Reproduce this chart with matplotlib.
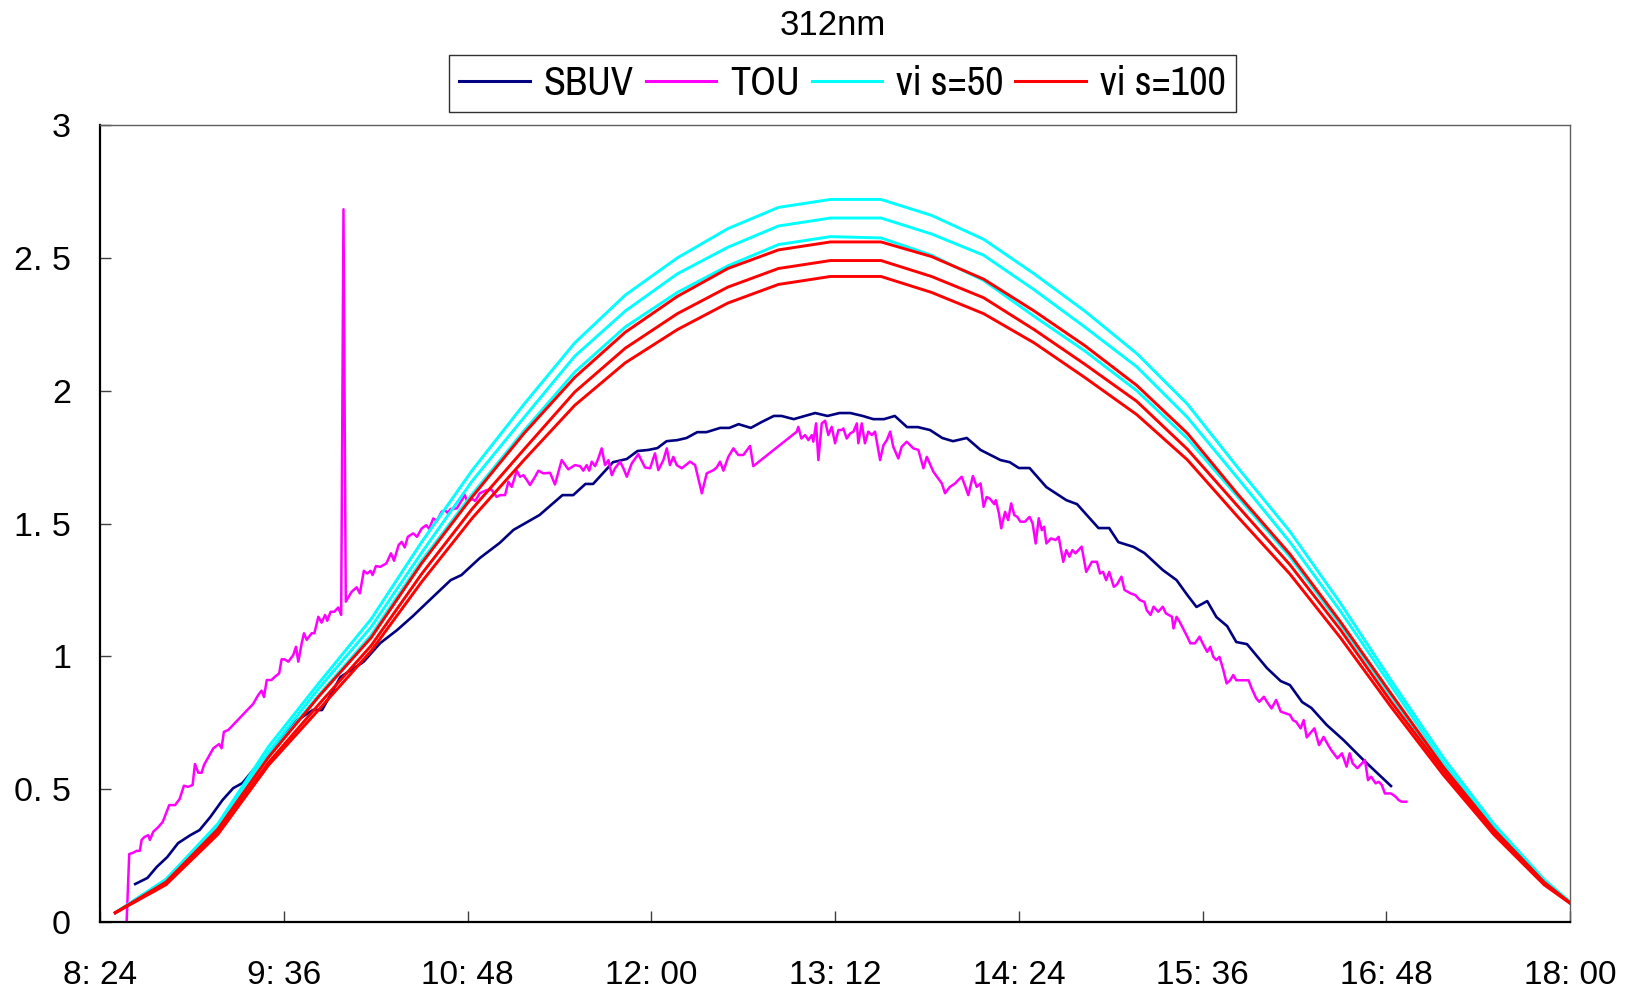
import matplotlib
matplotlib.use("Agg")
import matplotlib.pyplot as plt
from matplotlib.lines import Line2D

# time axis in decimal hours (8.4 = 8:24, 18.0 = 18:00)
tick_hours = [8.4, 9.6, 10.8, 12.0, 13.2, 14.4, 15.6, 16.8, 18.0]
tick_labels = ["8: 24", "9: 36", "10: 48", "12: 00", "13: 12", "14: 24", "15: 36", "16: 48", "18: 00"]
ytick_vals = [0, 0.5, 1, 1.5, 2, 2.5, 3]
ytick_labels = ["0", "0. 5", "1", "1. 5", "2", "2. 5", "3"]

# model runs, 20 min steps
model_hours = [8.5, 8.83, 9.17, 9.5, 9.83, 10.17, 10.5, 10.83, 11.17, 11.5, 11.83, 12.17, 12.5, 12.83,
               13.17, 13.5, 13.83, 14.17, 14.5, 14.83, 15.17, 15.5, 15.83, 16.17, 16.5, 16.83, 17.17,
               17.5, 17.83, 18.0]
vis50_a = [0.035, 0.16, 0.37, 0.66, 0.90, 1.14, 1.43, 1.70, 1.95, 2.18, 2.36, 2.50, 2.61, 2.69, 2.72,
           2.72, 2.66, 2.57, 2.44, 2.30, 2.14, 1.95, 1.71, 1.47, 1.20, 0.91, 0.62, 0.37, 0.16, 0.075]
vis50_b = [0.035, 0.16, 0.36, 0.64, 0.88, 1.11, 1.39, 1.66, 1.90, 2.13, 2.30, 2.44, 2.54, 2.62, 2.65,
           2.65, 2.59, 2.51, 2.38, 2.24, 2.09, 1.90, 1.67, 1.43, 1.17, 0.89, 0.60, 0.36, 0.155, 0.075]
vis50_c = [0.035, 0.15, 0.35, 0.625, 0.855, 1.08, 1.36, 1.61, 1.85, 2.07, 2.24, 2.37, 2.47, 2.55, 2.58,
           2.575, 2.51, 2.415, 2.28, 2.15, 2.00, 1.82, 1.60, 1.375, 1.12, 0.85, 0.58, 0.35, 0.15, 0.072]
vis100_a = [0.035, 0.15, 0.35, 0.62, 0.85, 1.07, 1.35, 1.60, 1.84, 2.05, 2.22, 2.355, 2.46, 2.53, 2.56,
            2.56, 2.505, 2.42, 2.30, 2.17, 2.02, 1.84, 1.61, 1.385, 1.13, 0.86, 0.585, 0.35, 0.15, 0.072]
vis100_b = [0.035, 0.145, 0.34, 0.60, 0.82, 1.04, 1.31, 1.555, 1.78, 1.995, 2.16, 2.29, 2.39, 2.46, 2.49,
            2.49, 2.43, 2.35, 2.23, 2.10, 1.96, 1.78, 1.565, 1.345, 1.10, 0.83, 0.57, 0.34, 0.145, 0.072]
vis100_c = [0.035, 0.14, 0.33, 0.59, 0.80, 1.02, 1.28, 1.52, 1.74, 1.945, 2.105, 2.23, 2.33, 2.40, 2.43,
            2.43, 2.37, 2.29, 2.18, 2.05, 1.91, 1.74, 1.525, 1.31, 1.07, 0.81, 0.555, 0.33, 0.14, 0.07]

# SBUV measurements
sbuv_hours = [8.63, 8.71, 8.77, 8.84, 8.91, 8.99, 9.05, 9.12, 9.20, 9.27, 9.33, 9.40, 9.49, 9.58, 9.66,
              9.79, 9.85, 9.97, 10.12, 10.23, 10.34, 10.44, 10.54, 10.69, 10.76, 10.88, 11.01, 11.10,
              11.27, 11.42, 11.49, 11.57, 11.62, 11.75, 11.84, 11.91, 11.98, 12.04, 12.10, 12.17, 12.23,
              12.30, 12.36, 12.45, 12.51, 12.57, 12.65, 12.72, 12.80, 12.85, 12.93, 13.07, 13.15, 13.23,
              13.30, 13.38, 13.45, 13.52, 13.59, 13.67, 13.74, 13.82, 13.90, 13.97, 14.06, 14.15, 14.28,
              14.34, 14.40, 14.47, 14.58, 14.71, 14.78, 14.92, 14.99, 15.05, 15.15, 15.22, 15.34, 15.43,
              15.50, 15.56, 15.63, 15.69, 15.76, 15.82, 15.89, 16.02, 16.11, 16.17, 16.25, 16.31, 16.41,
              16.52, 16.65, 16.83]
sbuv_vals = [0.143, 0.166, 0.207, 0.245, 0.297, 0.327, 0.346, 0.395, 0.459, 0.504, 0.523, 0.572, 0.621,
             0.685, 0.749, 0.798, 0.798, 0.922, 0.979, 1.050, 1.099, 1.150, 1.205, 1.287, 1.306, 1.370,
             1.427, 1.476, 1.532, 1.607, 1.607, 1.649, 1.649, 1.731, 1.743, 1.773, 1.777, 1.784, 1.810,
             1.814, 1.822, 1.844, 1.844, 1.860, 1.860, 1.874, 1.860, 1.882, 1.905, 1.905, 1.893, 1.916,
             1.905, 1.916, 1.916, 1.905, 1.893, 1.893, 1.905, 1.863, 1.863, 1.852, 1.822, 1.810, 1.822,
             1.777, 1.739, 1.731, 1.709, 1.709, 1.637, 1.588, 1.573, 1.483, 1.483, 1.430, 1.412, 1.389,
             1.325, 1.287, 1.231, 1.186, 1.208, 1.148, 1.114, 1.054, 1.046, 0.956, 0.907, 0.892, 0.828,
             0.806, 0.742, 0.685, 0.610, 0.512]

# TOU measurements
tou_hours = [8.574, 8.591, 8.617, 8.64, 8.66, 8.672, 8.69, 8.715, 8.726, 8.748, 8.78, 8.81, 8.852, 8.89,
             8.92, 8.948, 8.976, 9.005, 9.02, 9.042, 9.064, 9.079, 9.14, 9.178, 9.194, 9.209, 9.238,
             9.40, 9.433, 9.455, 9.471, 9.489, 9.52, 9.542, 9.57, 9.586, 9.605, 9.63, 9.662, 9.68, 9.695,
             9.717, 9.732, 9.75, 9.782, 9.80, 9.826, 9.847, 9.87, 9.884, 9.906, 9.93, 9.956, 9.975,
             9.99, 10.005, 10.043, 10.076, 10.097, 10.123, 10.145, 10.167, 10.18, 10.202, 10.23, 10.27,
             10.30, 10.32, 10.35, 10.37, 10.39, 10.41, 10.445, 10.47, 10.50, 10.53, 10.55, 10.576,
             10.60, 10.63, 10.652, 10.67, 10.69, 10.73, 10.783, 10.80, 10.827, 10.85, 10.88, 10.925,
             10.957, 10.99, 11.012, 11.045, 11.067, 11.089, 11.121, 11.143, 11.165, 11.187, 11.208,
             11.241, 11.263, 11.295, 11.339, 11.371, 11.415, 11.458, 11.502, 11.535, 11.556, 11.578,
             11.595, 11.611, 11.633, 11.654, 11.676, 11.698, 11.72, 11.742, 11.763, 11.796, 11.818,
             11.84, 11.872, 11.915, 11.959, 11.992, 12.024, 12.046, 12.079, 12.101, 12.122, 12.144,
             12.166, 12.199, 12.253, 12.286, 12.33, 12.362, 12.406, 12.427, 12.449, 12.471, 12.503,
             12.536, 12.568, 12.601, 12.645, 12.666, 12.95, 12.96, 12.98, 13.004, 13.026, 13.048,
             13.058, 13.076, 13.091, 13.113, 13.135, 13.156, 13.178, 13.2, 13.222, 13.244, 13.254,
             13.276, 13.298, 13.32, 13.342, 13.352, 13.374, 13.395, 13.417, 13.44, 13.461, 13.494,
             13.516, 13.538, 13.56, 13.58, 13.613, 13.635, 13.668, 13.711, 13.744, 13.777, 13.799,
             13.842, 13.897, 13.918, 13.95, 13.984, 14.005, 14.027, 14.05, 14.07, 14.10, 14.125, 14.15,
             14.17, 14.19, 14.21, 14.24, 14.25, 14.27, 14.285, 14.31, 14.33, 14.35, 14.37, 14.39,
             14.41, 14.44, 14.47, 14.49, 14.51, 14.53, 14.55, 14.565, 14.58, 14.61, 14.64, 14.66,
             14.69, 14.71, 14.73, 14.75, 14.77, 14.81, 14.84, 14.877, 14.91, 14.93, 14.95, 14.97,
             14.99, 15.02, 15.04, 15.07, 15.09, 15.13, 15.16, 15.19, 15.22, 15.235, 15.26, 15.28,
             15.31, 15.34, 15.36, 15.40, 15.41, 15.43, 15.45, 15.50, 15.52, 15.55, 15.58, 15.60,
             15.63, 15.65, 15.67, 15.69, 15.71, 15.735, 15.757, 15.78, 15.80, 15.82, 15.87, 15.90,
             15.92, 15.95, 15.97, 16.0, 16.02, 16.05, 16.08, 16.11, 16.14, 16.17, 16.19, 16.21, 16.24,
             16.26, 16.28, 16.31, 16.33, 16.36, 16.39, 16.42, 16.44, 16.48, 16.51, 16.54, 16.56,
             16.58, 16.61, 16.64, 16.66, 16.68, 16.70, 16.73, 16.75, 16.77, 16.79, 16.83, 16.86,
             16.88, 16.90, 16.93]
tou_vals = [0.0, 0.256, 0.261, 0.268, 0.268, 0.309, 0.32, 0.327, 0.309, 0.340, 0.357, 0.377, 0.440, 0.440,
            0.463, 0.513, 0.509, 0.516, 0.595, 0.562, 0.562, 0.591, 0.654, 0.670, 0.654, 0.716, 0.723,
            0.821, 0.854, 0.871, 0.847, 0.911, 0.911, 0.923, 0.936, 0.989, 0.989, 0.98, 1.005, 1.036, 0.98,
            1.049, 1.087, 1.062, 1.087, 1.087, 1.149, 1.127, 1.156, 1.134, 1.168, 1.168, 1.184, 1.156,
            2.683, 1.206, 1.243, 1.26, 1.237, 1.322, 1.312, 1.322, 1.306, 1.340, 1.337, 1.35,
            1.388, 1.36, 1.419, 1.431, 1.41, 1.45, 1.463, 1.45, 1.481, 1.494, 1.48, 1.519,
            1.51, 1.544, 1.551, 1.54, 1.555, 1.557, 1.607, 1.58, 1.594, 1.585, 1.614, 1.626,
            1.628, 1.60, 1.607, 1.607, 1.657, 1.638, 1.699, 1.676, 1.682, 1.664, 1.645,
            1.676, 1.699, 1.689, 1.691, 1.647, 1.739, 1.704, 1.720, 1.716, 1.699, 1.72,
            1.699, 1.733, 1.716, 1.745, 1.783, 1.72, 1.739, 1.682, 1.708, 1.733, 1.708,
            1.676, 1.726, 1.761, 1.711, 1.708, 1.764, 1.701, 1.739, 1.783, 1.72, 1.751,
            1.72, 1.708, 1.733, 1.72, 1.614, 1.689, 1.701, 1.711, 1.733, 1.699, 1.751,
            1.783, 1.758, 1.758, 1.792, 1.716, 1.846, 1.864, 1.82, 1.833, 1.814, 1.833,
            1.808, 1.877, 1.739, 1.877, 1.887, 1.833, 1.864, 1.802, 1.852, 1.852, 1.858,
            1.82, 1.839, 1.846, 1.877, 1.802, 1.877, 1.802, 1.846, 1.833, 1.846, 1.739,
            1.795, 1.814, 1.846, 1.789, 1.745, 1.789, 1.808, 1.783, 1.777, 1.708, 1.751,
            1.695, 1.651, 1.614, 1.638, 1.651, 1.664, 1.676, 1.64, 1.607, 1.679, 1.638, 1.651,
            1.563, 1.60, 1.594, 1.573, 1.588, 1.538, 1.482, 1.544, 1.513, 1.576, 1.532, 1.525,
            1.507, 1.507, 1.525, 1.50, 1.425, 1.52, 1.475, 1.488, 1.425, 1.444, 1.438, 1.45,
            1.356, 1.40, 1.375, 1.40, 1.388, 1.413, 1.318, 1.356, 1.356, 1.312, 1.318, 1.287,
            1.318, 1.262, 1.27, 1.30, 1.25, 1.237, 1.231, 1.212, 1.205, 1.174, 1.156, 1.187,
            1.168, 1.187, 1.162, 1.149, 1.105, 1.149, 1.13, 1.074, 1.049, 1.049, 1.074, 1.049,
            1.017, 1.036, 0.998, 0.986, 0.998, 0.949, 0.898, 0.91, 0.93, 0.91, 0.91, 0.91,
            0.88, 0.842, 0.829, 0.848, 0.829, 0.804, 0.836, 0.792, 0.786, 0.78, 0.76, 0.754, 0.729,
            0.76, 0.695, 0.716, 0.729, 0.666, 0.697, 0.666, 0.647, 0.616, 0.635, 0.585, 0.635,
            0.597, 0.579, 0.597, 0.61, 0.534, 0.547, 0.522, 0.528, 0.516, 0.484, 0.484, 0.472,
            0.459, 0.453, 0.453]

navy = "#000080"
magenta = "#FF00FF"
cyan = "#00FFFF"
red = "#FF0000"
plain = ["Liberation Sans", "DejaVu Sans"]
narrow = ["Liberation Sans Narrow", "Arial Narrow", "Archivo Narrow", "Roboto Condensed", "Liberation Sans"]

fig = plt.figure(figsize=(16.39, 9.94), dpi=100)
ax = fig.add_axes([0.061, 0.0724, 0.897, 0.8018])

ax.plot(sbuv_hours, sbuv_vals, color=navy, lw=1.9)
ax.plot(tou_hours, tou_vals, color=magenta, lw=1.8)
for v in [vis50_a, vis50_b, vis50_c]:
    ax.plot(model_hours, v, color=cyan, lw=2.1)
for v in [vis100_a, vis100_b, vis100_c]:
    ax.plot(model_hours, v, color=red, lw=2.1)

ax.set_xlim(8.4, 18.0)
ax.set_ylim(0, 3)
ax.set_xticks(tick_hours)
ax.set_xticklabels(tick_labels, family=plain, fontsize=24)
ax.set_yticks(ytick_vals)
ax.set_yticklabels(ytick_labels, family=plain, fontsize=24.5)
ax.tick_params(axis="x", direction="in", length=8, width=1, color="#404040", pad=27)
ax.tick_params(axis="y", direction="in", length=8, width=1, color="#404040", pad=21)
for side in ["left", "bottom"]:
    ax.spines[side].set_linewidth(1.6)
    ax.spines[side].set_color("black")
for side in ["top", "right"]:
    ax.spines[side].set_linewidth(1.0)
    ax.spines[side].set_color("#606060")

fig.text(0.508, 0.974, "312nm", ha="center", va="center", fontsize=25, family=plain)

handles = [Line2D([], [], color=navy, lw=2.2), Line2D([], [], color=magenta, lw=2.2),
           Line2D([], [], color=cyan, lw=2.2), Line2D([], [], color=red, lw=2.2)]
labels = ["SBUV", "TOU", "vi s=50", "vi s=100"]
leg = fig.legend(handles, labels, loc="center", bbox_to_anchor=(0.514, 0.916), ncol=4,
                 frameon=True, fancybox=False, framealpha=1, edgecolor="#303030",
                 prop={"family": narrow, "size": 29}, handlelength=1.75, handletextpad=0.34,
                 columnspacing=0.3, borderpad=0.25, borderaxespad=0)
leg.get_frame().set_linewidth(1.0)

fig.savefig("out.png", dpi=100)
